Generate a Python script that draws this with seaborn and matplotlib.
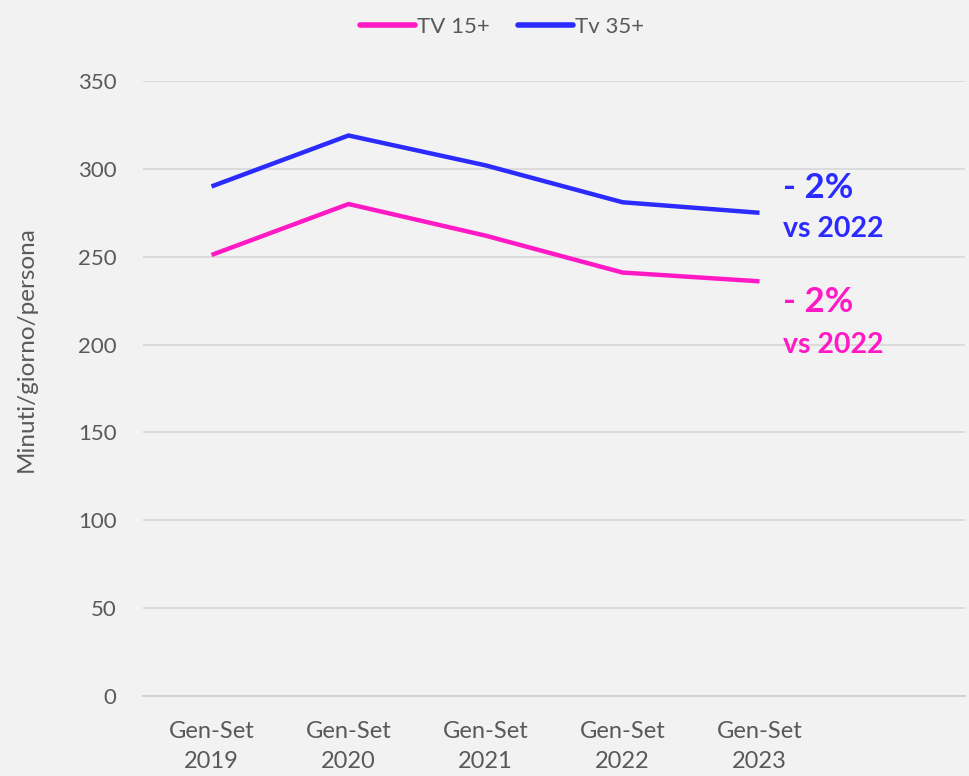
import numpy as np
import pandas as pd
import matplotlib.pyplot as plt
import seaborn as sns

periods = ["Gen-Set\n2019", "Gen-Set\n2020", "Gen-Set\n2021", "Gen-Set\n2022", "Gen-Set\n2023", ""]
tv15 = [251, 280, 262, 241, 236]
tv35 = [290, 319, 302, 281, 275]
series_names = ["TV 15+", "Tv 35+"]
colors = ["#FF1AC6", "#2B2BFF"]
notes = ["- 2%", "vs 2022"]

df = pd.DataFrame({
    "x": list(range(len(tv15))) * 2,
    "value": tv15 + tv35,
    "serie": [series_names[0]] * len(tv15) + [series_names[1]] * len(tv35),
})

sns.set_theme(style="white")
plt.rcParams["font.family"] = ["Lato", "DejaVu Sans"]
bg = "#F2F2F2"
txt = "#595959"

fig = plt.figure(figsize=(9.69, 7.76), dpi=100, facecolor=bg)
ax = fig.add_axes([0.1476, 0.1031, 0.8483, 0.7925], facecolor=bg)

sns.lineplot(data=df, x="x", y="value", hue="serie", palette=colors,
             linewidth=3.2, ax=ax, legend=True, solid_capstyle="butt")

ax.set_xlim(-0.5, len(periods) - 0.5)
ax.set_ylim(0, 350)
ax.set_yticks(range(0, 351, 50))
ax.set_xticks(range(len(periods)))
ax.set_xticklabels(periods, linespacing=1.55)
ax.set_xticks(np.arange(-0.5, len(periods), 1), minor=True)
ax.tick_params(axis="x", which="major", length=0, pad=18, labelsize=17, labelcolor=txt)
ax.tick_params(axis="x", which="minor", length=8, color="#D0D0D0", width=1.2)
ax.tick_params(axis="y", length=0, pad=19, labelsize=16, labelcolor=txt)
ax.grid(axis="y", color="#D9D9D9", linewidth=1.3)
ax.set_axisbelow(True)
for side in ["top", "right", "left"]:
    ax.spines[side].set_visible(False)
ax.spines["bottom"].set_color("#D0D0D0")
ax.spines["bottom"].set_linewidth(1.3)

ax.set_xlabel("")
ax.set_ylabel("Minuti/giorno/persona", fontsize=17.5, color=txt)
ax.yaxis.set_label_coords(-0.129, 0.564)

leg = ax.legend(loc="upper center", bbox_to_anchor=(0.437, 1.137), ncol=2, frameon=False,
                fontsize=16, handlelength=2.45, handletextpad=0.1, columnspacing=1.3)
for t in leg.get_texts():
    t.set_color(txt)
for h in leg.get_lines():
    h.set_linewidth(4)
    h.set_solid_capstyle("round")

# annotations
last = len(tv15) - 1
xt = last + 0.17
ax.text(xt, tv35[last] + 14, notes[0], color=colors[1], fontsize=25,
        fontweight="bold", va="center", ha="left")
ax.text(xt, tv35[last] - 9, notes[1], color=colors[1], fontsize=20.5,
        fontweight="bold", va="center", ha="left")
ax.text(xt, tv15[last] - 12, notes[0], color=colors[0], fontsize=25,
        fontweight="bold", va="center", ha="left")
ax.text(xt, tv15[last] - 36, notes[1], color=colors[0], fontsize=20.5,
        fontweight="bold", va="center", ha="left")

fig.savefig("out.png", dpi=100, facecolor=bg)
